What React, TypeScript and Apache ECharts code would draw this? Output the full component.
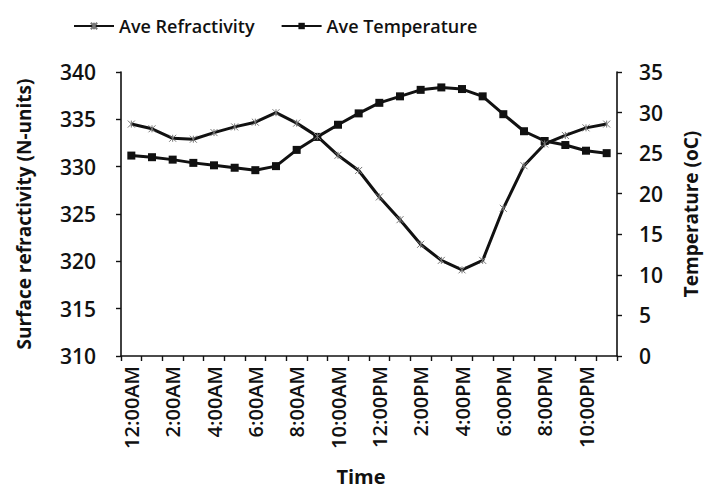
import React, { useEffect, useRef } from "react";
import * as echarts from "echarts";

const timeLabels = [
  "12:00AM", "1:00AM", "2:00AM", "3:00AM", "4:00AM", "5:00AM",
  "6:00AM", "7:00AM", "8:00AM", "9:00AM", "10:00AM", "11:00AM",
  "12:00PM", "1:00PM", "2:00PM", "3:00PM", "4:00PM", "5:00PM",
  "6:00PM", "7:00PM", "8:00PM", "9:00PM", "10:00PM", "11:00PM",
];

const aveRefractivity = [
  334.5, 334.0, 333.0, 332.9, 333.6, 334.2, 334.7, 335.7, 334.6, 333.2, 331.2, 329.6,
  326.8, 324.4, 321.8, 320.1, 319.1, 320.1, 325.6, 330.1, 332.4, 333.3, 334.1, 334.5,
];

const aveTemperature = [
  24.7, 24.5, 24.2, 23.8, 23.5, 23.2, 22.9, 23.4, 25.4, 27.0, 28.5, 29.9,
  31.2, 32.0, 32.8, 33.1, 32.9, 32.0, 29.8, 27.7, 26.5, 26.0, 25.3, 25.0,
];

const FONT = "'Open Sans', 'Noto Sans', sans-serif";
const starPath = "path://M0,0L10,10M10,0L0,10M5,0L5,10";

export default function App() {
  const ref = useRef<HTMLDivElement>(null);

  useEffect(() => {
    if (!ref.current) return;
    const chart = echarts.init(ref.current, undefined, { renderer: "svg" });
    const axisLine = { show: true, lineStyle: { color: "#111", width: 1.6 } };
    chart.setOption({
      animation: false,
      backgroundColor: "#fff",
      textStyle: { fontFamily: FONT },
      legend: {
        left: 68,
        top: 12,
        itemWidth: 40,
        itemHeight: 8,
        itemGap: 26,
        textStyle: { fontFamily: FONT, fontSize: 18, fontWeight: 600, color: "#111" },
        data: ["Ave Refractivity", "Ave Temperature"],
      },
      grid: { left: 121, right: 87, top: 72, bottom: 136, containLabel: false, outerBoundsMode: "none" },
      xAxis: {
        type: "category",
        data: timeLabels,
        boundaryGap: true,
        axisLine,
        axisTick: { show: true, interval: 0, length: 5, inside: false, lineStyle: { color: "#111", width: 1.4 } },
        axisLabel: {
          interval: 1,
          rotate: 90,
          margin: 10,
          fontFamily: FONT,
          fontSize: 20,
          fontWeight: 600,
          color: "#111",
        },
        name: "Time",
        nameLocation: "middle",
        nameGap: 110,
        nameTextStyle: { fontFamily: FONT, fontSize: 20, fontWeight: 700, color: "#111", padding: [0, 16, 0, 0] },
      },
      yAxis: [
        {
          type: "value",
          min: 310,
          max: 340,
          interval: 5,
          position: "left",
          axisLine,
          axisTick: { show: true, length: 5, lineStyle: { color: "#111", width: 1.4 } },
          splitLine: { show: false },
          axisLabel: { margin: 25, fontFamily: FONT, fontSize: 21, fontWeight: 600, color: "#111" },
          name: "Surface refractivity (N-units)",
          nameLocation: "middle",
          nameGap: 88,
          nameTextStyle: { fontFamily: FONT, fontSize: 19, fontWeight: 700, color: "#111" },
        },
        {
          type: "value",
          min: 0,
          max: 35,
          interval: 5,
          position: "right",
          axisLine,
          axisTick: { show: true, length: 5, lineStyle: { color: "#111", width: 1.4 } },
          splitLine: { show: false },
          axisLabel: { margin: 22, fontFamily: FONT, fontSize: 21, fontWeight: 600, color: "#111" },
          name: "Temperature (oC)",
          nameLocation: "middle",
          nameGap: 64,
          nameTextStyle: { fontFamily: FONT, fontSize: 19, fontWeight: 700, color: "#111" },
        },
      ],
      series: [
        {
          name: "Ave Refractivity",
          type: "line",
          yAxisIndex: 0,
          data: aveRefractivity,
          symbol: starPath,
          symbolSize: 7,
          showSymbol: true,
          lineStyle: { color: "#111", width: 3 },
          itemStyle: { color: "#111", borderColor: "#777", borderWidth: 1 },
          z: 3,
        },
        {
          name: "Ave Temperature",
          type: "line",
          yAxisIndex: 1,
          data: aveTemperature,
          symbol: "rect",
          symbolSize: 8,
          lineStyle: { color: "#111", width: 3 },
          itemStyle: { color: "#111" },
          z: 2,
        },
      ],
    });
    return () => chart.dispose();
  }, []);

  return <div ref={ref} style={{ width: 704, height: 492, position: "absolute", left: 0, top: 0 }} />;
}
